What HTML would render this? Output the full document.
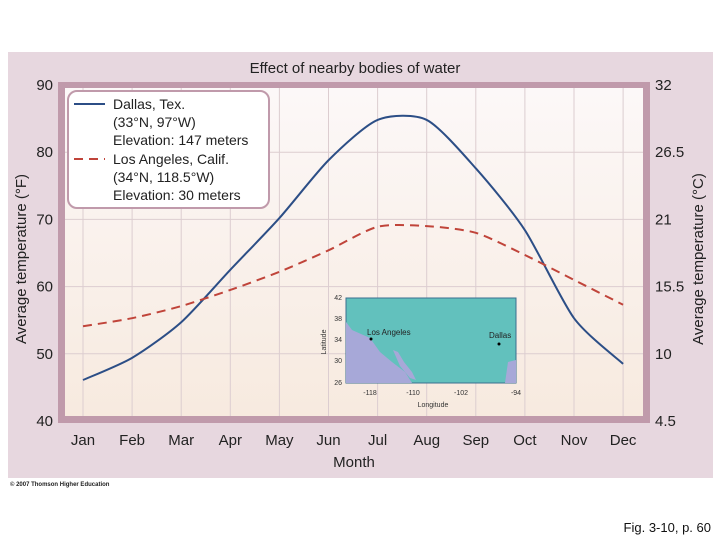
<!DOCTYPE html>
<html><head><meta charset="utf-8"><style>
body{margin:0;width:720px;height:540px;background:#fff;overflow:hidden;font-family:"Liberation Sans",sans-serif;}
svg text{font-family:"Liberation Sans",sans-serif;}
</style></head><body>
<svg width="720" height="540">
<defs>
<linearGradient id="bg" x1="0" y1="0" x2="0" y2="1">
<stop offset="0" stop-color="#fcf8f8"/><stop offset="1" stop-color="#f7eadf"/></linearGradient>
</defs>
<rect x="8" y="52" width="705" height="426" fill="#e7d7df"/>
<rect x="58" y="82" width="592" height="341" fill="#c09aab"/>
<rect x="65" y="88" width="578" height="328" fill="url(#bg)"/>
<text x="355" y="73" font-size="15" text-anchor="middle" fill="#222">Effect of nearby bodies of water</text>
<g id="grid"></g>
<g id="ticks"></g>
<g id="series"></g>
<g>
<rect x="68" y="91" width="201" height="117" rx="9" fill="#fff" stroke="#c09aab" stroke-width="2"/>
<line x1="74" y1="104" x2="105" y2="104" stroke="#2c4e86" stroke-width="2"/>
<line x1="74" y1="159" x2="105" y2="159" stroke="#c0443a" stroke-width="2" stroke-dasharray="9,6"/>
<g font-size="14" fill="#222">
<text x="113" y="109">Dallas, Tex.</text>
<text x="113" y="127">(33°N, 97°W)</text>
<text x="113" y="145">Elevation: 147 meters</text>
<text x="113" y="164">Los Angeles, Calif.</text>
<text x="113" y="182">(34°N, 118.5°W)</text>
<text x="113" y="200">Elevation: 30 meters</text>
</g></g>
<g>
<rect x="346" y="298" width="170" height="85" fill="#62c1bd" stroke="#3a6f8f"/>
<path d="M346,322 L352,330 L370,338 L380,352 L392,362 L405,372 L412,383 L346,383 Z" fill="#a7a8d8"/>
<path d="M393,350 L398,352 L404,362 L412,372 L416,380 L410,378 L400,366 Z" fill="#a7a8d8"/>
<path d="M516,360 L508,362 L505,383 L516,383 Z" fill="#a7a8d8"/>
<circle cx="371" cy="339" r="1.5" fill="#000"/><circle cx="499" cy="344" r="1.5" fill="#000"/>
<text x="367" y="335" font-size="8" fill="#222">Los Angeles</text>
<text x="489" y="338" font-size="8" fill="#222">Dallas</text>
<g font-size="7" fill="#333" text-anchor="end">
<text x="342" y="300">42</text><text x="342" y="321">38</text><text x="342" y="342">34</text><text x="342" y="363">30</text><text x="342" y="385">26</text></g>
<g font-size="7" fill="#333" text-anchor="middle">
<text x="370" y="395">-118</text><text x="413" y="395">-110</text><text x="461" y="395">-102</text><text x="516" y="395">-94</text>
<text x="433" y="407">Longitude</text></g>
<text transform="translate(326,342) rotate(-90)" font-size="7" fill="#333" text-anchor="middle">Latitude</text>
</g>
<text transform="translate(26,259) rotate(-90)" font-size="15" text-anchor="middle" fill="#222">Average temperature (°F)</text>
<text transform="translate(703,259) rotate(-90)" font-size="15" text-anchor="middle" fill="#222">Average temperature (°C)</text>
<text x="354" y="467" font-size="15" text-anchor="middle" fill="#222">Month</text>
<text x="10" y="486" font-size="6" font-weight="bold" fill="#222">© 2007 Thomson Higher Education</text>
<text x="711" y="532" font-size="13" text-anchor="end" fill="#111">Fig. 3-10, p. 60</text>
</svg>
<script>
const months=["Jan","Feb","Mar","Apr","May","Jun","Jul","Aug","Sep","Oct","Nov","Dec"];
const dallasF=[46.1,49.4,54.7,62.5,70.2,78.8,84.8,84.8,77.6,68.4,55.3,48.5];
const laF=[54.1,55.3,57.1,59.5,62.2,65.4,68.9,69.0,68.0,64.7,61.0,57.3];
const fTicks=[40,50,60,70,80,90];
const cTicks=["4.5","10","15.5","21","26.5","32"];
const NS="http://www.w3.org/2000/svg";
const x=i=>83+i*49.1;
const y=v=>421-(v-40)*6.72;
function mk(t,a,p){const e=document.createElementNS(NS,t);for(const k in a)e.setAttribute(k,a[k]);p.appendChild(e);return e;}
const grid=document.getElementById('grid'),ticks=document.getElementById('ticks'),series=document.getElementById('series');
months.forEach((m,i)=>{
 const l=mk('line',{x1:x(i),x2:x(i),y1:88,y2:416,stroke:'#dccdd0','stroke-width':1},grid);
 
 
 const t=mk('text',{x:x(i),y:445,'font-size':15,'text-anchor':'middle',fill:'#222'},ticks);
 t.textContent=m;
 
 
});
fTicks.forEach((v,i)=>{
 if(v>40&&v<90){const l=mk('line',{x1:65,x2:643,y1:y(v),y2:y(v),stroke:'#dccdd0','stroke-width':1},grid);
 
 }
 const t=mk('text',{x:53,y:y(v)+5,'font-size':15,'text-anchor':'end',fill:'#222'},ticks);
 t.textContent=v;
 
 
 const t2=mk('text',{x:655,y:y(v)+5,'font-size':15,fill:'#222'},ticks);
 t2.textContent=cTicks[i];
 
 
});
function smooth(vals){
 const p=vals.map((v,i)=>[x(i),y(v)]);let d=`M${p[0][0]},${p[0][1]}`;
 for(let i=0;i<p.length-1;i++){const p0=p[i-1]||p[i],p1=p[i],p2=p[i+1],p3=p[i+2]||p2;
  d+=` C${p1[0]+(p2[0]-p0[0])/8},${p1[1]+(p2[1]-p0[1])/8} ${p2[0]-(p3[0]-p1[0])/8},${p2[1]-(p3[1]-p1[1])/8} ${p2[0]},${p2[1]}`;}
 return d;}
const d1=mk('path',{d:smooth(dallasF),fill:'none',stroke:'#2c4e86','stroke-width':2},series);


const d2=mk('path',{d:smooth(laF),fill:'none',stroke:'#c0443a','stroke-width':2,'stroke-dasharray':'9,6'},series);


</script>
</body></html>
